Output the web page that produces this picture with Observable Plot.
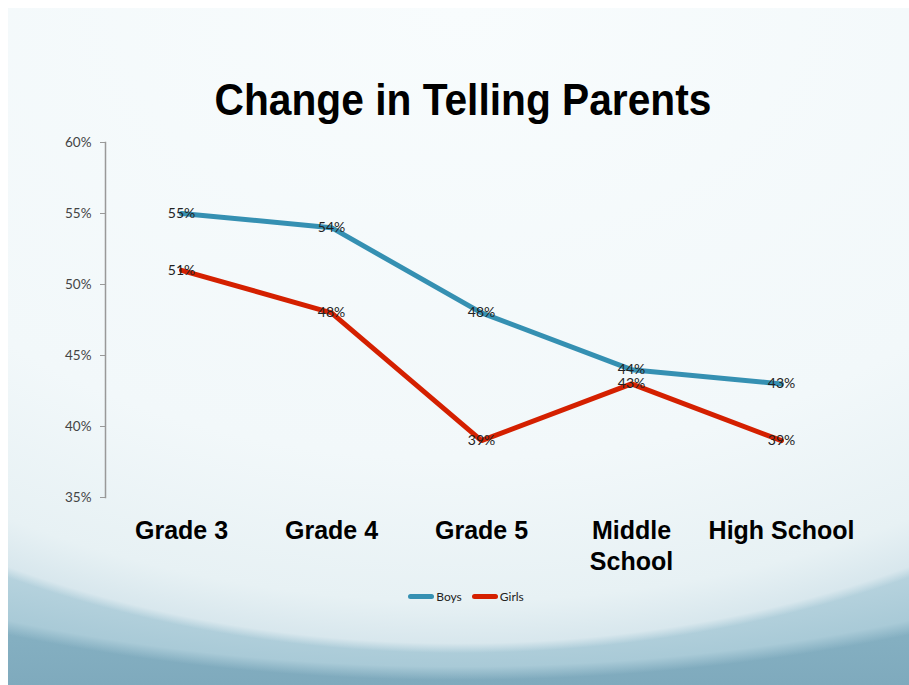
<!DOCTYPE html>
<html><head><meta charset="utf-8">
<script src="https://cdn.jsdelivr.net/npm/d3@7"></script>
<script src="https://cdn.jsdelivr.net/npm/@observablehq/plot@0.6"></script>
<style>
body{margin:0;background:#fff;width:909px;height:685px;position:relative;overflow:hidden;}
#slide{position:absolute;left:8px;top:8px;width:901px;height:677px;overflow:hidden;
 background:
  radial-gradient(ellipse 960px 645px at 50% 0, #f8fcfd 0%, #f2f8fa 70%, #e7f1f4 92%, #d8e7ed 98.5%, rgba(216,231,237,0) 100%),
  radial-gradient(ellipse 1250px 672px at 50% 0, #c6dde6 84%, #a9cad7 98%, rgba(169,202,215,0) 100%),
  linear-gradient(to bottom, #a0c4d1 0%, #8ab5c6 85%, #7faabd 100%);}
#title{position:absolute;left:0;width:926px;top:78px;text-align:center;font:bold 44px "Liberation Sans",Arial,sans-serif;line-height:1;color:#000;transform:scaleX(0.925);}
#chart{position:absolute;left:0;top:130px;}
#legend{position:absolute;top:587px;left:0;width:932px;text-align:center;font:12px Lato,"Liberation Sans",sans-serif;color:#222;}
#legend span.item{display:inline-flex;align-items:center;margin:0 5px;}
#legend span.sw{display:inline-block;width:26px;height:5px;border-radius:3px;margin-right:2px;}
</style></head>
<body>
<div id="slide"></div>
<div id="title">Change in Telling Parents</div>
<div id="chart"></div>
<div id="legend"></div>
<script>
const categories = ["Grade 3", "Grade 4", "Grade 5", "Middle\nSchool", "High School"];
const seriesNames = ["Boys", "Girls"];
const seriesColors = ["#3590b2", "#d42000"];
const boys = [55, 54, 48, 44, 43];
const girls = [51, 48, 39, 43, 39];
const yTicks = [35, 40, 45, 50, 55, 60];

const data = [];
[boys, girls].forEach((vals, si) => vals.forEach((v, i) => data.push({cat: categories[i], value: v, series: seriesNames[si]})));

const chart = Plot.plot({
  width: 909,
  height: 460,
  marginLeft: 105,
  marginRight: 52,
  marginTop: 12,
  marginBottom: 93,
  style: {background: "transparent", overflow: "visible"},
  x: {type: "point", domain: categories, padding: 0.5},
  y: {domain: [35, 60]},
  color: {domain: seriesNames, range: seriesColors},
  marks: [
    Plot.frame({anchor: "left", stroke: "#999", strokeWidth: 1.5}),
    Plot.axisY({ticks: yTicks, tickSize: 5, tickPadding: 9, stroke: "#999", tickFormat: d => d + "%",
      fontSize: 13.5, fontFamily: "Lato, sans-serif", fill: "#444", label: null}),
    Plot.axisX({tickSize: 0, tickPadding: 20, fontSize: 25, fontWeight: "bold", fontFamily: "'Liberation Sans', Arial, sans-serif",
      fill: "#000", lineHeight: 1.22, label: null}),
    Plot.line(data, {x: "cat", y: "value", z: "series", stroke: "series", strokeWidth: 5, strokeLinejoin: "miter"}),
    Plot.text(data, {x: "cat", y: "value", text: d => d.value + "%", fontSize: 14, fontFamily: "Lato, sans-serif", fill: "#222"})
  ]
});
document.getElementById("chart").appendChild(chart);

const legend = document.getElementById("legend");
seriesNames.forEach((name, i) => {
  const item = document.createElement("span");
  item.className = "item";
  item.innerHTML = `<span class="sw" style="background:${seriesColors[i]}"></span>${name}`;
  legend.appendChild(item);
});
</script>
</body></html>
